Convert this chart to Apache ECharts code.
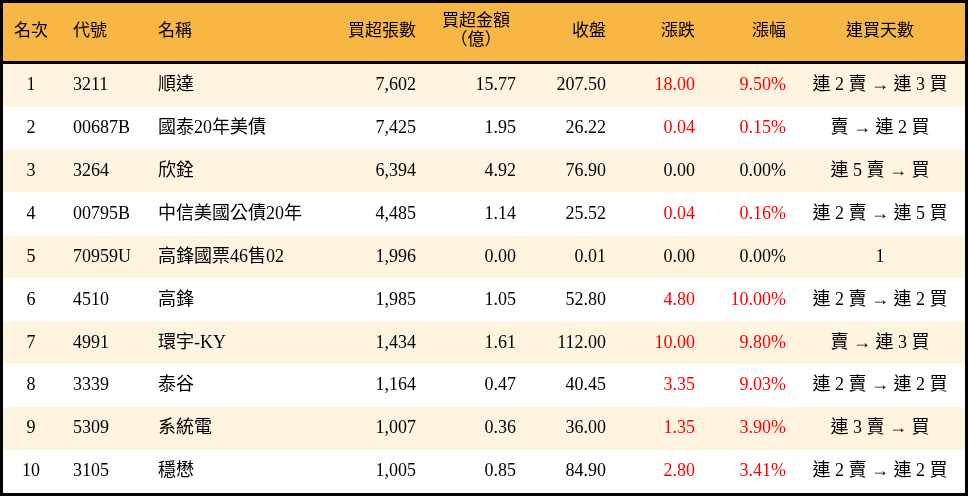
<!DOCTYPE html>
<html>
<head>
<meta charset="utf-8">
<script src="https://cdn.jsdelivr.net/npm/echarts@6/dist/echarts.min.js"></script>
<style>html,body{margin:0;padding:0;background:#fff}#main{width:968px;height:496px}</style>
</head>
<body>
<div id="main"></div>
<script>
var headers = ['名次', '代號', '名稱', '買超張數', '買超金額\n（億）', '收盤', '漲跌', '漲幅', '連買天數'];
var ranks = ['1', '2', '3', '4', '5', '6', '7', '8', '9', '10'];
var codes = ['3211', '00687B', '3264', '00795B', '70959U', '4510', '4991', '3339', '5309', '3105'];
var names = ['順達', '國泰20年美債', '欣銓', '中信美國公債20年', '高鋒國票46售02', '高鋒', '環宇-KY', '泰谷', '系統電', '穩懋'];
var volumes = ['7,602', '7,425', '6,394', '4,485', '1,996', '1,985', '1,434', '1,164', '1,007', '1,005'];
var amounts = ['15.77', '1.95', '4.92', '1.14', '0.00', '1.05', '1.61', '0.47', '0.36', '0.85'];
var closes = ['207.50', '26.22', '76.90', '25.52', '0.01', '52.80', '112.00', '40.45', '36.00', '84.90'];
var changes = ['18.00', '0.04', '0.00', '0.04', '0.00', '4.80', '10.00', '3.35', '1.35', '2.80'];
var pcts = ['9.50%', '0.15%', '0.00%', '0.16%', '0.00%', '10.00%', '9.80%', '9.03%', '3.90%', '3.41%'];
var streaks = ['連 2 賣 → 連 3 買', '賣 → 連 2 買', '連 5 賣 → 買', '連 2 賣 → 連 5 買', '1', '連 2 賣 → 連 2 買', '賣 → 連 3 買', '連 2 賣 → 連 2 買', '連 3 賣 → 買', '連 2 賣 → 連 2 買'];

var FONT = '"Liberation Serif", "Noto Sans CJK TC", serif';
// column anchor x and alignment
var cols = [
  {x: 31, align: 'center', hx: 31, halign: 'center'},
  {x: 73, align: 'left', hx: 73, halign: 'left'},
  {x: 158, align: 'left', hx: 158, halign: 'left'},
  {x: 416, align: 'right', hx: 416, halign: 'right'},
  {x: 516, align: 'right', hx: 476, halign: 'center'},
  {x: 606, align: 'right', hx: 606, halign: 'right'},
  {x: 695, align: 'right', hx: 695, halign: 'right'},
  {x: 786, align: 'right', hx: 786, halign: 'right'},
  {x: 880, align: 'center', hx: 880, halign: 'center'}
];

var rows = ranks.map(function (r, i) { return [0, i]; });

var graphics = [
  {type: 'rect', shape: {x: 0, y: 0, width: 968, height: 62}, style: {fill: '#F8B645'}, z: 1}
];
headers.forEach(function (h, j) {
  graphics.push({type: 'text', x: cols[j].hx, y: h.indexOf('\n') >= 0 ? 31 : 32, z: 5,
    style: {text: h, fill: '#000', font: '17px ' + FONT, align: cols[j].halign, verticalAlign: 'middle', lineHeight: 19}});
});
graphics.push({type: 'rect', shape: {x: 0, y: 61, width: 968, height: 3}, style: {fill: '#000'}, z: 6});
graphics.push({type: 'rect', shape: {x: 1.5, y: 1.5, width: 965, height: 493}, style: {fill: null, stroke: '#000', lineWidth: 3}, z: 10});

var chart = echarts.init(document.getElementById('main'));
chart.setOption({
  animation: false,
  grid: {left: 0, right: 0, top: 64, bottom: 3},
  xAxis: {type: 'value', min: 0, max: 968, show: false},
  yAxis: {type: 'category', data: ranks, inverse: true, show: false},
  graphic: graphics,
  series: [{
    type: 'custom',
    data: rows,
    renderItem: function (params, api) {
      var i = api.value(1);
      var c = api.coord([0, i]);
      var h = api.size([0, 1])[1];
      var vals = [ranks[i], codes[i], names[i], volumes[i], amounts[i], closes[i], changes[i], pcts[i], streaks[i]];
      var up = parseFloat(changes[i]) > 0;
      var children = [{type: 'rect', shape: {x: 0, y: c[1] - h / 2, width: 968, height: h},
        style: {fill: i % 2 === 0 ? '#FFF4E0' : '#FFFFFF'}}];
      vals.forEach(function (v, j) {
        children.push({type: 'text', x: api.coord([cols[j].x, i])[0], y: c[1],
          style: {text: v, font: '18px ' + FONT, align: cols[j].align, verticalAlign: 'middle',
            fill: (up && (j === 6 || j === 7)) ? '#FF0000' : '#000'}});
      });
      return {type: 'group', children: children};
    }
  }]
});
</script>
</body>
</html>
